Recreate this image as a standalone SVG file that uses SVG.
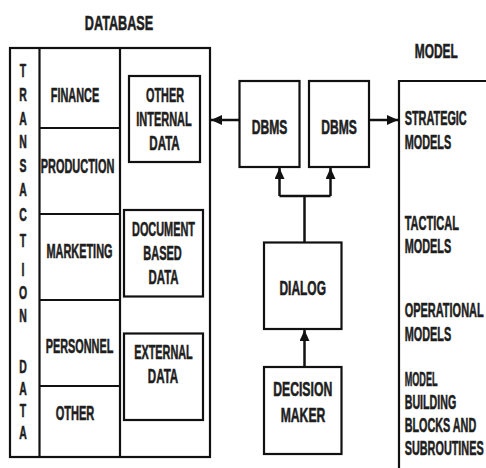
<svg xmlns="http://www.w3.org/2000/svg" width="486" height="468" viewBox="0 0 486 468">
<style>
.t{font-family:"Liberation Sans",Arial,sans-serif;font-weight:bold;font-size:20.8px;fill:#1e1e1e;stroke:#1e1e1e;stroke-width:0.6}
.v{font-size:19px}
.m{text-anchor:middle}
.box{fill:none;stroke:#111;stroke-width:2.2}
.ln{fill:none;stroke:#111;stroke-width:2.2}
.ar{fill:none;stroke:#111;stroke-width:2.5}
</style>
<defs>
<marker id="ah" markerUnits="userSpaceOnUse" markerWidth="12" markerHeight="10" refX="11" refY="5" orient="auto">
<path d="M0,0 L11,5 L0,10 z" fill="#111"/>
</marker>
</defs>
<rect width="486" height="468" fill="#fff"/>

<g id="database">
<text class="t m" transform="translate(119,30) scale(0.53,1)" textLength="128.9" lengthAdjust="spacingAndGlyphs">DATABASE</text>
<rect class="box" x="10" y="48" width="200" height="409"/>
<line class="ln" x1="39.5" y1="48" x2="39.5" y2="457"/>
<line class="ln" x1="120" y1="48" x2="120" y2="457"/>
</g>

<g id="transaction-data">
<text class="t v m" transform="translate(23,0) scale(0.55,1)"><tspan x="0" y="77">T</tspan><tspan x="0" y="101">R</tspan><tspan x="0" y="125">A</tspan><tspan x="0" y="148">N</tspan><tspan x="0" y="172">S</tspan><tspan x="0" y="196">A</tspan><tspan x="0" y="221">C</tspan><tspan x="0" y="247">T</tspan><tspan x="0" y="276">I</tspan><tspan x="0" y="299">O</tspan><tspan x="0" y="322">N</tspan><tspan x="0" y="373">D</tspan><tspan x="0" y="395">A</tspan><tspan x="0" y="417">T</tspan><tspan x="0" y="439">A</tspan></text>
</g>

<g id="finance">
<text class="t m" transform="translate(75,102) scale(0.53,1)" textLength="91.1" lengthAdjust="spacingAndGlyphs">FINANCE</text>
<line class="ln" x1="39.5" y1="128" x2="120" y2="128"/>
</g>
<g id="production">
<text class="t m" transform="translate(77.5,173) scale(0.53,1)" textLength="138.9" lengthAdjust="spacingAndGlyphs">PRODUCTION</text>
<line class="ln" x1="39.5" y1="214" x2="120" y2="214"/>
</g>
<g id="marketing">
<text class="t m" transform="translate(79.5,258) scale(0.53,1)" textLength="124.5" lengthAdjust="spacingAndGlyphs">MARKETING</text>
<line class="ln" x1="39.5" y1="300" x2="120" y2="300"/>
</g>
<g id="personnel">
<text class="t m" transform="translate(79.5,353) scale(0.53,1)" textLength="127.7" lengthAdjust="spacingAndGlyphs">PERSONNEL</text>
<line class="ln" x1="39.5" y1="386" x2="120" y2="386"/>
</g>
<g id="other">
<text class="t m" transform="translate(75,420) scale(0.53,1)" textLength="73" lengthAdjust="spacingAndGlyphs">OTHER</text>
</g>

<g id="other-internal-data">
<rect class="box" x="129" y="76" width="71" height="86"/>
<text class="t m" transform="translate(165,102) scale(0.53,1)" textLength="71.7" lengthAdjust="spacingAndGlyphs">OTHER</text>
<text class="t m" transform="translate(164,126) scale(0.53,1)" textLength="104.7" lengthAdjust="spacingAndGlyphs">INTERNAL</text>
<text class="t m" transform="translate(164.5,150) scale(0.53,1)" textLength="57.5" lengthAdjust="spacingAndGlyphs">DATA</text>
</g>
<g id="document-based-data">
<rect class="box" x="124" y="210" width="79" height="86.5"/>
<text class="t m" transform="translate(163.5,236) scale(0.53,1)" textLength="118.9" lengthAdjust="spacingAndGlyphs">DOCUMENT</text>
<text class="t m" transform="translate(162.5,260) scale(0.53,1)" textLength="72.6" lengthAdjust="spacingAndGlyphs">BASED</text>
<text class="t m" transform="translate(163.5,284) scale(0.53,1)" textLength="56.6" lengthAdjust="spacingAndGlyphs">DATA</text>
</g>
<g id="external-data">
<rect class="box" x="124" y="333.5" width="79" height="86.5"/>
<text class="t m" transform="translate(163.5,359) scale(0.53,1)" textLength="110.4" lengthAdjust="spacingAndGlyphs">EXTERNAL</text>
<text class="t m" transform="translate(163,383) scale(0.53,1)" textLength="57.5" lengthAdjust="spacingAndGlyphs">DATA</text>
</g>

<g id="dbms1">
<rect class="box" x="239.5" y="81" width="60" height="86"/>
<text class="t m" transform="translate(269.5,134) scale(0.53,1)" textLength="67" lengthAdjust="spacingAndGlyphs">DBMS</text>
</g>
<g id="dbms2">
<rect class="box" x="309" y="81" width="60" height="86"/>
<text class="t m" transform="translate(339,134) scale(0.53,1)" textLength="67" lengthAdjust="spacingAndGlyphs">DBMS</text>
</g>
<g id="dialog">
<rect class="box" x="264" y="242.5" width="77.5" height="86.5"/>
<text class="t m" transform="translate(302.7,295) scale(0.53,1)" textLength="87.7" lengthAdjust="spacingAndGlyphs">DIALOG</text>
</g>
<g id="decision-maker">
<rect class="box" x="264" y="367" width="77.5" height="87"/>
<text class="t m" transform="translate(302.7,396) scale(0.53,1)" textLength="111.3" lengthAdjust="spacingAndGlyphs">DECISION</text>
<text class="t m" transform="translate(303,422) scale(0.53,1)" textLength="84" lengthAdjust="spacingAndGlyphs">MAKER</text>
</g>

<g id="model">
<text class="t m" transform="translate(436.3,58) scale(0.53,1)" textLength="81.1" lengthAdjust="spacingAndGlyphs">MODEL</text>
<path class="box" d="M486,81 H399 V468"/>
<text class="t" transform="translate(404.7,125) scale(0.53,1)" textLength="117" lengthAdjust="spacingAndGlyphs">STRATEGIC</text>
<text class="t" transform="translate(404.7,149) scale(0.53,1)" textLength="87.7" lengthAdjust="spacingAndGlyphs">MODELS</text>
<text class="t" transform="translate(404.7,230) scale(0.53,1)" textLength="102.5" lengthAdjust="spacingAndGlyphs">TACTICAL</text>
<text class="t" transform="translate(404.7,253) scale(0.53,1)" textLength="87.7" lengthAdjust="spacingAndGlyphs">MODELS</text>
<text class="t" transform="translate(404.7,316.7) scale(0.53,1)" textLength="149" lengthAdjust="spacingAndGlyphs">OPERATIONAL</text>
<text class="t" transform="translate(404.7,340.5) scale(0.53,1)" textLength="87.7" lengthAdjust="spacingAndGlyphs">MODELS</text>
<text class="t" transform="translate(404.7,386) scale(0.53,1)" textLength="62" lengthAdjust="spacingAndGlyphs">MODEL</text>
<text class="t" transform="translate(404.7,409) scale(0.53,1)" textLength="97.2" lengthAdjust="spacingAndGlyphs">BUILDING</text>
<text class="t" transform="translate(404.7,432) scale(0.53,1)" textLength="134.9" lengthAdjust="spacingAndGlyphs">BLOCKS AND</text>
<text class="t" transform="translate(404.7,455) scale(0.53,1)" textLength="149" lengthAdjust="spacingAndGlyphs">SUBROUTINES</text>
</g>

<g id="connectors">
<line class="ar" x1="239.5" y1="120" x2="211" y2="120" marker-end="url(#ah)"/>
<line class="ar" x1="369" y1="120" x2="398" y2="120" marker-end="url(#ah)"/>
<path class="ar" d="M304.5,242.5 V196"/>
<path class="ar" d="M279.5,196 H330.5"/>
<line class="ar" x1="279.5" y1="196" x2="279.5" y2="168" marker-end="url(#ah)"/>
<line class="ar" x1="330.5" y1="196" x2="330.5" y2="168" marker-end="url(#ah)"/>
<line class="ar" x1="304.5" y1="367" x2="304.5" y2="330" marker-end="url(#ah)"/>
</g>
</svg>
